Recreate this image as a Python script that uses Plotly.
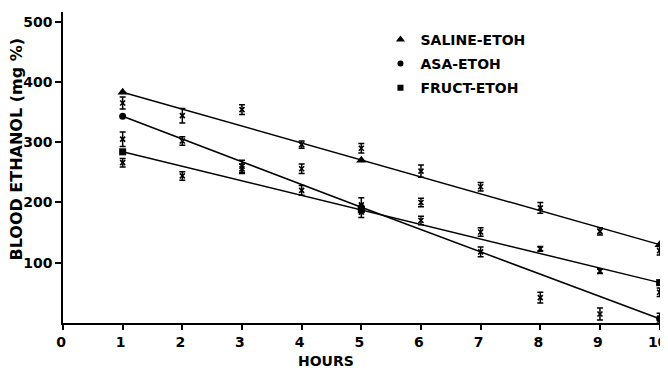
import plotly.graph_objects as go

# ---- data ----
hours = [1, 2, 3, 4, 5, 6, 7, 8, 9, 10]

saline_mean = [365, 344, 354, 296, 290, 252, 226, 191, 152, 120]
saline_se = [10, 12, 8, 6, 8, 10, 7, 9, 6, 7]

asa_mean = [305, 302, 260, 220, 196, 200, 118, 42, 15, 8]
asa_se = [12, 7, 10, 8, 12, 7, 8, 9, 10, 8]

fruct_mean = [266, 244, 256, 256, 184, 170, 151, 123, 86, 51]
fruct_se = [7, 7, 8, 8, 9, 7, 7, 4, 4, 7]

fit_hours = [1, 5, 10]
saline_fit = [383, 270, 130]
asa_fit = [343, 192, 7]
fruct_fit = [284, 188, 67]

series_names = ["SALINE-ETOH", "ASA-ETOH", "FRUCT-ETOH"]
x_ticks = [0, 1, 2, 3, 4, 5, 6, 7, 8, 9, 10]
y_ticks = [100, 200, 300, 400, 500]

FONT = "DejaVu Sans"
BLACK = "#000000"

fig = go.Figure()

fits = [(saline_fit, "triangle-up", 9), (asa_fit, "circle", 7), (fruct_fit, "square", 7)]
for vals, sym, sz in fits:
    fig.add_trace(go.Scatter(
        x=fit_hours, y=vals, mode="lines+markers",
        line=dict(color=BLACK, width=1.5),
        marker=dict(symbol=sym, size=sz, color=BLACK),
        showlegend=False, cliponaxis=False, hoverinfo="skip"))

for means, ses in [(saline_mean, saline_se), (asa_mean, asa_se), (fruct_mean, fruct_se)]:
    fig.add_trace(go.Scatter(
        x=hours, y=means, mode="markers",
        marker=dict(symbol="x-thin", size=5, color=BLACK,
                    line=dict(color=BLACK, width=1.6)),
        error_y=dict(type="data", array=ses, visible=True,
                     color=BLACK, thickness=1.5, width=3),
        showlegend=False, cliponaxis=False))

# legend-only entries
for i, (name, (vals, sym, sz)) in enumerate(zip(series_names, fits)):
    fig.add_trace(go.Scatter(
        x=[None], y=[None], mode="markers", name=name,
        marker=dict(symbol=sym, size=sz - 1, color=BLACK),
        legendgroup=f"g{i}", showlegend=True))

# the page body adds an 8px offset; the figure is sized to fit the 668x372 window
fig.update_layout(
    width=660, height=364,
    margin=dict(l=55, r=6, t=4, b=49),
    paper_bgcolor="white", plot_bgcolor="white",
    font=dict(family=FONT, size=14, color=BLACK, weight="bold"),
    showlegend=True,
    legend=dict(x=0.530, y=0.962, xanchor="left", yanchor="top",
                bgcolor="rgba(0,0,0,0)", borderwidth=0,
                font=dict(family=FONT, size=14, color=BLACK, weight="bold"),
                tracegroupgap=3, itemwidth=30),
    xaxis=dict(range=[0, 10.04], tickvals=x_ticks, ticktext=[str(v) for v in x_ticks],
               showline=True, linecolor=BLACK, linewidth=1.5,
               ticks="outside", ticklen=5, tickwidth=1.5, tickcolor=BLACK,
               showgrid=False, zeroline=False, automargin=False,
               ticklabeloverflow="allow", ticklabelshift=-2,
               tickfont=dict(family=FONT, size=14, color=BLACK, weight="bold")),
    yaxis=dict(range=[0, 516], tickvals=y_ticks, ticktext=[str(v) for v in y_ticks],
               showline=True, linecolor=BLACK, linewidth=1.5,
               ticks="outside", ticklen=6, tickwidth=1.5, tickcolor=BLACK,
               showgrid=False, zeroline=False, automargin=False,
               ticklabeloverflow="allow",
               tickfont=dict(family=FONT, size=14, color=BLACK, weight="bold")),
    annotations=[
        dict(text="BLOOD ETHANOL (mg %)", textangle=-90,
             xref="paper", yref="paper", x=-0.0776, y=0.5595,
             xanchor="center", yanchor="middle", showarrow=False,
             font=dict(family=FONT, size=16, color=BLACK, weight="bold")),
        dict(text="HOURS", xref="paper", yref="paper", x=0.439, y=-0.090,
             xanchor="center", yanchor="top", showarrow=False,
             font=dict(family=FONT, size=14, color=BLACK, weight="bold")),
    ],
)

fig.write_html("out.html")
